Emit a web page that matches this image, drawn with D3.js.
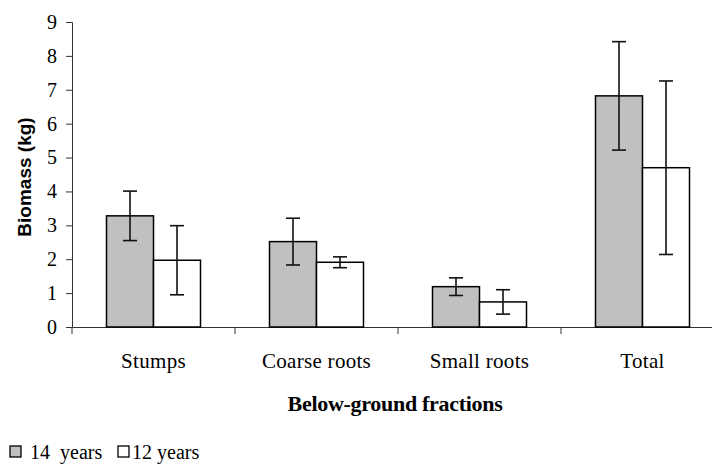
<!DOCTYPE html>
<html>
<head>
<meta charset="utf-8">
<script src="https://cdn.jsdelivr.net/npm/d3@7"></script>
<style>
  body { margin: 0; background: #fff; }
</style>
</head>
<body>
<div id="chart"></div>
<script>
var categories = ["Stumps", "Coarse roots", "Small roots", "Total"];
var seriesNames = ["14  years", "12 years"];
var values14 = [3.28, 2.52, 1.19, 6.82];
var err14 = [0.73, 0.69, 0.26, 1.60];
var values12 = [1.97, 1.91, 0.74, 4.70];
var err12 = [1.02, 0.16, 0.36, 2.56];
var yTicks = [0, 1, 2, 3, 4, 5, 6, 7, 8, 9];

var width = 712, height = 464;
var mLeft = 72, mRight = 724, mTop = 22, mBottom = 327;
var fills = ["#c0c0c0", "#ffffff"];
var serif = "Liberation Serif, Times New Roman, serif";

var svg = d3.select("#chart").append("svg")
    .attr("width", width)
    .attr("height", height);

var x = d3.scaleBand().domain(categories).range([mLeft, mRight]);
var y = d3.scaleLinear().domain([0, 9]).range([mBottom, mTop]);
var barW = 47;

var rows = [];
categories.forEach(function(c, i) {
  rows.push({cat: c, s: 0, v: values14[i], e: err14[i]});
  rows.push({cat: c, s: 1, v: values12[i], e: err12[i]});
});
function bx(d) { return x(d.cat) + x.bandwidth() / 2 - barW + d.s * barW; }

// y axis
var yAxis = svg.append("g")
    .attr("transform", "translate(" + mLeft + ",0)")
    .call(d3.axisLeft(y).tickValues(yTicks).tickSize(6).tickPadding(9));
yAxis.selectAll("text")
    .style("font-family", serif)
    .style("font-size", "20px")
    .attr("fill", "#000");

// x axis
var xAxis = svg.append("g")
    .attr("transform", "translate(0," + mBottom + ")")
    .call(d3.axisBottom(x).tickSize(0).tickPadding(26));
xAxis.selectAll("text")
    .style("font-family", serif)
    .style("font-size", "21px")
    .style("letter-spacing", "0.3px")
    .attr("fill", "#000");
xAxis.selectAll(".sep")
    .data(categories)
    .enter().append("line")
    .attr("class", "sep")
    .attr("x1", function(d) { return x(d); })
    .attr("x2", function(d) { return x(d); })
    .attr("y1", 0).attr("y2", 7)
    .attr("stroke", "#333");

svg.selectAll(".domain").attr("stroke", "#333");
svg.selectAll(".tick line").attr("stroke", "#333");

// bars
svg.selectAll(".bar")
    .data(rows)
    .enter().append("rect")
    .attr("class", "bar")
    .attr("x", bx)
    .attr("width", barW)
    .attr("y", function(d) { return y(d.v); })
    .attr("height", function(d) { return y(0) - y(d.v); })
    .attr("fill", function(d) { return fills[d.s]; })
    .attr("stroke", "#000")
    .attr("stroke-width", 1.5);

// error bars
var eb = svg.selectAll(".err")
    .data(rows)
    .enter().append("g")
    .attr("class", "err")
    .attr("stroke", "#111")
    .attr("stroke-width", 1.6);
eb.append("line")
    .attr("x1", function(d) { return bx(d) + barW / 2; })
    .attr("x2", function(d) { return bx(d) + barW / 2; })
    .attr("y1", function(d) { return y(d.v + d.e); })
    .attr("y2", function(d) { return y(d.v - d.e); });
[1, -1].forEach(function(sgn) {
  eb.append("line")
      .attr("x1", function(d) { return bx(d) + barW / 2 - 7; })
      .attr("x2", function(d) { return bx(d) + barW / 2 + 7; })
      .attr("y1", function(d) { return y(d.v + sgn * d.e); })
      .attr("y2", function(d) { return y(d.v + sgn * d.e); });
});

// axis titles
svg.append("text")
    .attr("transform", "translate(31,177) rotate(-90)")
    .attr("text-anchor", "middle")
    .style("font-family", "Liberation Sans, Arial, sans-serif")
    .style("font-weight", "bold")
    .style("font-size", "19px")
    .text("Biomass (kg)");

svg.append("text")
    .attr("x", 395).attr("y", 411)
    .attr("text-anchor", "middle")
    .style("font-family", serif)
    .style("font-weight", "bold")
    .style("font-size", "22px")
    .style("letter-spacing", "-0.3px")
    .text("Below-ground fractions");

// legend
var legX = [10, 118];
var legTextOff = [20, 14];
var leg = svg.selectAll(".leg")
    .data(seriesNames)
    .enter().append("g")
    .attr("class", "leg")
    .attr("transform", function(d, i) { return "translate(" + legX[i] + ",446)"; });
leg.append("rect")
    .attr("width", 11).attr("height", 11)
    .attr("fill", function(d, i) { return fills[i]; })
    .attr("stroke", "#000")
    .attr("stroke-width", 1.3);
leg.append("text")
    .attr("x", function(d, i) { return legTextOff[i]; })
    .attr("y", 13)
    .style("font-family", serif)
    .style("font-size", "20px")
    .style("white-space", "pre")
    .text(function(d) { return d; });
</script>
</body>
</html>
